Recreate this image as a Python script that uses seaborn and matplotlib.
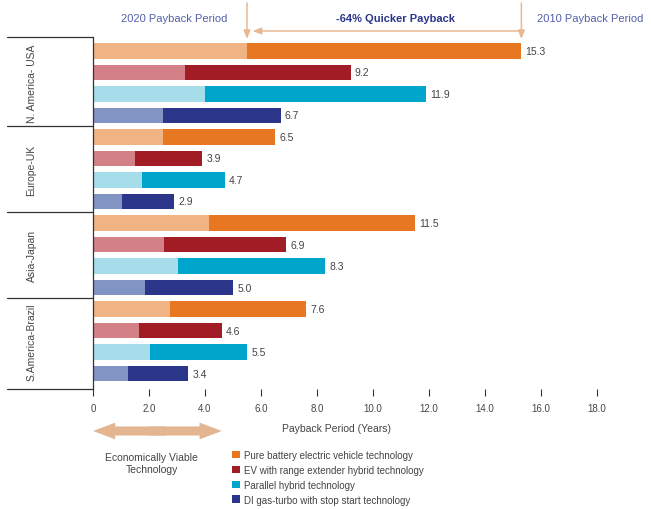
import matplotlib
matplotlib.use("Agg")
import pandas as pd
import matplotlib.pyplot as plt
import seaborn as sns
from matplotlib.patches import Patch
from matplotlib.transforms import blended_transform_factory

# ---------- DATA ----------
regions = ["N. America- USA", "Europe-UK", "Asia-Japan", "S.America-Brazil"]
techs = [
    "Pure battery electric vehicle technology",
    "EV with range extender hybrid technology",
    "Parallel hybrid technology",
    "DI gas-turbo with stop start technology",
]
# 2010 payback (full bar) and 2020 payback (light part), years
payback_2010 = [15.3, 9.2, 11.9, 6.7,
                6.5, 3.9, 4.7, 2.9,
                11.5, 6.9, 8.3, 5.0,
                7.6, 4.6, 5.5, 3.4]
payback_2020 = [5.5, 3.3, 4.0, 2.5,
                2.5, 1.5, 1.75, 1.05,
                4.15, 2.55, 3.05, 1.85,
                2.75, 1.65, 2.05, 1.25]
x_ticks = [0, 2, 4, 6, 8, 10, 12, 14, 16, 18]
x_tick_labels = ["0", "2.0", "4.0", "6.0", "8.0", "10.0", "12.0", "14.0", "16.0", "18.0"]

dark_colors = ["#E87722", "#A11C24", "#00A5CB", "#2B368B"]
light_colors = ["#F0B384", "#D38086", "#A6DDEB", "#8194C4"]
arrow_color = "#E8B892"
note_color = "#5560A8"
text_color = "#444444"

rows = []
i = 0
for r in regions:
    for t in techs:
        rows.append({"row": f"{r} | {t}", "region": r, "tech": t,
                     "p2010": payback_2010[i], "p2020": payback_2020[i]})
        i += 1
df = pd.DataFrame(rows)

# ---------- PLOT ----------
sns.set_style("white")
plt.rcParams["font.family"] = ["Liberation Sans", "DejaVu Sans"]

fig = plt.figure(figsize=(6.51, 5.10), dpi=100)
ax = fig.add_axes([93 / 651, 1 - 390 / 510, 504 / 651, 352 / 510])

sns.barplot(data=df, y="row", x="p2010", hue="tech", palette=dict(zip(techs, dark_colors)),
            dodge=False, width=0.74, saturation=1, legend=False, linewidth=0, ax=ax)
sns.barplot(data=df, y="row", x="p2020", hue="tech", palette=dict(zip(techs, light_colors)),
            dodge=False, width=0.74, saturation=1, legend=False, linewidth=0, ax=ax)

ax.set_xlim(0, 18)
ax.set_ylim(15.72, -0.65)
ax.set_xticks(x_ticks)
ax.set_xticklabels(x_tick_labels, fontsize=7, color=text_color)
ax.set_yticks([])
ax.set_xlabel("")
ax.set_ylabel("")
ax.tick_params(axis="x", direction="out", length=5, width=0.8, color="#333333", pad=5, bottom=True)
for s in ["top", "right", "bottom"]:
    ax.spines[s].set_visible(False)
ax.spines["left"].set_color("#333333")
ax.spines["left"].set_linewidth(0.9)

# value labels
for idx, v in enumerate(payback_2010):
    ax.text(v + 0.15, idx, f"{v:.1f}", va="center", ha="left", fontsize=7.5, color=text_color)

# region separators and labels
trans = blended_transform_factory(ax.transAxes, ax.transData)
for yb in [-0.65, 3.5, 7.5, 11.5, 15.72]:
    ax.plot([-0.17, 0], [yb, yb], transform=trans, color="#333333", lw=0.9, clip_on=False)
for g, r in enumerate(regions):
    ax.text(-0.122, g * 4 + 1.5, r, transform=trans, rotation=90, ha="center", va="center",
            fontsize=7.5, color=text_color)

# top annotations
xfig = ("data", "figure fraction")
for xv in [payback_2020[0], payback_2010[0]]:
    ax.annotate("", xy=(xv, 1 - 40 / 510), xytext=(xv, 1 - 4 / 510), xycoords=xfig, textcoords=xfig,
                arrowprops=dict(arrowstyle="-|>,head_length=0.5,head_width=0.2", color=arrow_color,
                                lw=1.1, shrinkA=0, shrinkB=0))
ax.annotate("", xy=(payback_2020[0] + 0.2, 1 - 32 / 510), xytext=(payback_2010[0] - 0.1, 1 - 32 / 510),
            xycoords=xfig, textcoords=xfig,
            arrowprops=dict(arrowstyle="-|>,head_length=0.5,head_width=0.2", color=arrow_color,
                            lw=1.1, shrinkA=0, shrinkB=0))
top = blended_transform_factory(ax.transData, fig.transFigure)
ax.text(2.9, 1 - 19 / 510, "2020 Payback Period", transform=top,
        ha="center", va="center", fontsize=8, color=note_color)
ax.text(17.75, 1 - 19 / 510, "2010 Payback Period", transform=top,
        ha="center", va="center", fontsize=8, color=note_color)
ax.text(10.8, 1 - 19 / 510, "-64% Quicker Payback", transform=top,
        ha="center", va="center", fontsize=8, fontweight="bold", color="#2B368B")

# bottom: axis title, viable-technology arrow, legend
ax.text(8.7, 1 - 429 / 510, "Payback Period (Years)", transform=top, ha="center", va="center",
        fontsize=7.5, color=text_color)
for x_end, x_start in [(0, 2.6), (4.6, 2.0)]:
    ax.annotate("", xy=(x_end, 1 - 432 / 510), xytext=(x_start, 1 - 432 / 510), xycoords=xfig, textcoords=xfig,
                arrowprops=dict(arrowstyle="simple,head_length=16,head_width=12,tail_width=6.5",
                                mutation_scale=1, color="#E3B591", ec="none", shrinkA=0, shrinkB=0))
ax.text(2.1, 1 - 464 / 510, "Economically Viable\nTechnology", transform=top, ha="center", va="center",
        fontsize=7.5, color=text_color, linespacing=1.2)

handles = [Patch(facecolor=c, edgecolor="none") for c in dark_colors]
fig.legend(handles, techs, loc="upper left", bbox_to_anchor=(232 / 651, 1 - 451 / 510),
           frameon=False, fontsize=7, labelcolor=text_color, handlelength=0.8, handleheight=0.8,
           handletextpad=0.4, labelspacing=0.5, borderpad=0, borderaxespad=0)

fig.savefig("out.png", dpi=100)
